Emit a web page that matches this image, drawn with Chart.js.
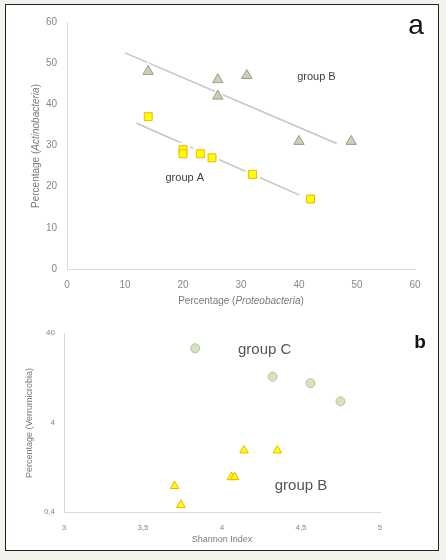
<!DOCTYPE html>
<html>
<head>
<meta charset="utf-8">
<script src="https://cdn.jsdelivr.net/npm/chart.js@4.4.0/dist/chart.umd.min.js"></script>
<style>
  body { margin: 0; background: #f3f3ee; width: 446px; height: 560px; position: relative; overflow: hidden; }
  #frame { position: absolute; left: 5px; top: 4px; width: 434px; height: 547px; box-sizing: border-box;
           border: 1.5px solid #222; background: #fff; }
  canvas { position: absolute; left: 0; }
  #chartA { top: 0; }
  #chartB { top: 315px; }
</style>
</head>
<body>
<div id="frame"></div>
<canvas id="chartA" width="446" height="315"></canvas>
<canvas id="chartB" width="446" height="245"></canvas>
<script>
// --- Data: panel a ---
const groupAX = [14, 20, 20, 23, 25, 32, 42];
const groupAY = [37, 29, 28, 28, 27, 23, 17];
const groupBX = [14, 26, 26, 31, 40, 49];
const groupBY = [48, 46, 42, 47, 31, 31];
const trendAX = [12, 40];
const trendAY = [35.4, 18];
const trendBX = [10, 46.5];
const trendBY = [52.5, 30.5];
const ticksAX = [0, 10, 20, 30, 40, 50, 60];
const ticksAY = [0, 10, 20, 30, 40, 50, 60];

// --- Data: panel b ---
const shannonC = [3.83, 4.32, 4.56, 4.75];
const verruC = [27, 13, 11, 6.9];
const shannonB = [3.70, 3.74, 4.06, 4.08, 4.14, 4.35];
const verruB = [0.78, 0.48, 0.98, 0.98, 1.95, 1.95];
const ticksBX = [3, 3.5, 4, 4.5, 5];
const ticksBY = [0.4, 4, 40];

const FONT = '"Liberation Sans", Arial, sans-serif';
const zip = (xs, ys) => xs.map((x, i) => ({ x: x, y: ys[i] }));
const comma = v => String(v).replace('.', ',');

// draws labels (data coords) and axis titles (canvas coords, mixed italic)
function textPlugin(id, items) {
  return {
    id: id,
    afterDraw(chart) {
      const ctx = chart.ctx;
      const xs = chart.scales.x, ys = chart.scales.y;
      items.forEach(t => {
        ctx.save();
        let px = t.px, py = t.py;
        if (t.x !== undefined) { px = xs.getPixelForValue(t.x); py = ys.getPixelForValue(t.y); }
        ctx.translate(px, py);
        if (t.rotate) ctx.rotate(-Math.PI / 2);
        ctx.fillStyle = t.color;
        ctx.textBaseline = 'middle';
        ctx.textAlign = 'left';
        const parts = t.parts || [{ t: t.text }];
        const fontOf = p => (p.i ? 'italic ' : '') + (t.weight || 'normal') + ' ' + t.size + 'px ' + FONT;
        let total = 0;
        parts.forEach(p => { ctx.font = fontOf(p); total += ctx.measureText(p.t).width; });
        let cx = -total / 2;
        parts.forEach(p => { ctx.font = fontOf(p); ctx.fillText(p.t, cx, 0); cx += ctx.measureText(p.t).width; });
        ctx.restore();
      });
    }
  };
}

function axisOpts(min, max, ticks, pad, size, extra) {
  return Object.assign({
    min: min, max: max,
    grid: { display: false, drawTicks: false, tickLength: 0 },
    border: { color: '#d9d9d9', width: 1 },
    afterBuildTicks: s => { s.ticks = ticks.map(v => ({ value: v })); },
    ticks: { padding: pad, color: '#868686', font: { family: FONT, size: size }, callback: v => comma(v) }
  }, extra);
}

// --- Panel a ---
const textsA = [
  { text: 'group B', x: 43, y: 46.7, size: 11, color: '#404040' },
  { text: 'group A', x: 20.3, y: 22.2, size: 11, color: '#404040' },
  { text: 'a', px: 416, py: 26, size: 28, color: '#111' },
  { parts: [{ t: 'Percentage (' }, { t: 'Proteobacteria', i: true }, { t: ')' }], px: 241, py: 301, size: 10, color: '#7a7a7a' },
  { parts: [{ t: 'Percentage (' }, { t: 'Actinobacteria', i: true }, { t: ')' }], px: 36, py: 146, size: 10, color: '#7a7a7a', rotate: true }
];

new Chart(document.getElementById('chartA'), {
  type: 'scatter',
  data: {
    datasets: [
      { data: zip(groupAX, groupAY), pointStyle: 'rect', pointRadius: 5.6, backgroundColor: '#ffff00', borderColor: '#f0b400', borderWidth: 1, order: 0 },
      { data: zip(groupBX, groupBY), pointStyle: 'triangle', pointRadius: 6, backgroundColor: '#cfcfb6', borderColor: '#9d9d8a', borderWidth: 1, order: 0 },
      { data: zip(groupAX, groupAY), pointStyle: 'rect', pointRadius: 10, backgroundColor: '#fff', borderWidth: 0, order: 1 },
      { data: zip(groupBX, groupBY), pointStyle: 'triangle', pointRadius: 10, backgroundColor: '#fff', borderWidth: 0, order: 1 },
      { data: zip(trendAX, trendAY), showLine: true, pointRadius: 0, borderColor: '#c4c4c4', borderWidth: 1.5, order: 2 },
      { data: zip(trendBX, trendBY), showLine: true, pointRadius: 0, borderColor: '#c4c4c4', borderWidth: 1.5, order: 2 }
    ]
  },
  options: {
    responsive: false,
    animation: false,
    layout: { padding: { left: 0, right: 31, top: 22, bottom: 0 } },
    plugins: { legend: { display: false }, tooltip: { enabled: false } },
    scales: {
      x: axisOpts(0, 60, ticksAX, 10, 10, { type: 'linear', afterFit: s => { s.height = 46; } }),
      y: axisOpts(0, 60, ticksAY, 10, 10, { type: 'linear', afterFit: s => { s.width = 67; } })
    }
  },
  plugins: [textPlugin('textsA', textsA)]
});

// --- Panel b ---
const textsB = [
  { text: 'group C', x: 4.27, y: 26, size: 15, color: '#555' },
  { text: 'group B', x: 4.5, y: 0.79, size: 15, color: '#555' },
  { text: 'b', px: 420, py: 28, size: 19, weight: 'bold', color: '#111' },
  { text: 'Shannon Index', px: 222, py: 225, size: 9, color: '#7a7a7a' },
  { text: 'Percentage (Verrumicrobia)', px: 30, py: 108, size: 9, color: '#7a7a7a', rotate: true }
];

new Chart(document.getElementById('chartB'), {
  type: 'scatter',
  data: {
    datasets: [
      { data: zip(shannonC, verruC), pointStyle: 'circle', pointRadius: 4.5, backgroundColor: '#d4e2bf', borderColor: '#b3c79b', borderWidth: 1 },
      { data: zip(shannonB, verruB), pointStyle: 'triangle', pointRadius: 5, backgroundColor: '#ffff00', borderColor: '#f0b400', borderWidth: 1 }
    ]
  },
  options: {
    responsive: false,
    animation: false,
    layout: { padding: { left: 0, right: 66, top: 18, bottom: 0 } },
    plugins: { legend: { display: false }, tooltip: { enabled: false } },
    scales: {
      x: axisOpts(3, 5, ticksBX, 11, 8, { type: 'linear', afterFit: s => { s.height = 48; } }),
      y: axisOpts(0.4, 40, ticksBY, 9, 8, { type: 'logarithmic', afterFit: s => { s.width = 64; } })
    }
  },
  plugins: [textPlugin('textsB', textsB)]
});
</script>
</body>
</html>
